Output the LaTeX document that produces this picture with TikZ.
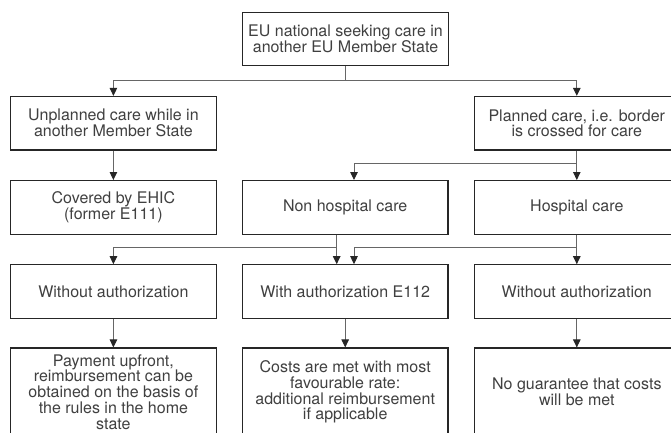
\documentclass[tikz,border=0pt]{standalone}
\usepackage{fontspec}
\setmainfont{TeX Gyre Heros}
\usetikzlibrary{arrows.meta}
\begin{document}
\begin{tikzpicture}[x=1pt,y=-1pt,
  box/.style={draw=black!85,line width=1.1pt,fill=white,minimum width=205.5pt,
    minimum height=53.5pt,inner sep=2pt,align=center,text=black!75,
    font=\fontsize{16}{15.8}\selectfont},
  tallbox/.style={box,minimum height=88pt},
  conn/.style={draw=black!60,line width=0.9pt},
  arr/.style={conn,-{Triangle[length=8pt,width=7.5pt,color=black!85,fill=black!85]}}]
\useasboundingbox (0,0) rectangle (671,433);
\clip (0,0) rectangle (671,433);
% row 1
\node[box] (top) at (345.5,39.2) {EU national seeking care in\\another EU Member State};
% row 2
\node[box] (unpl) at (113.4,123.2) {Unplanned care while in\\another Member State};
\node[box] (plan) at (576.8,123.2) {Planned care, i.e. border\\is crossed for care};
% row 3
\node[box] (ehic) at (113.4,207.3) {Covered by EHIC\\(former E111)};
\node[box] (nonh) at (345.2,207.3) {Non hospital care};
\node[box] (hosp) at (576.8,207.3) {Hospital care};
% row 4
\node[box] (woa) at (113.4,291.5) {Without authorization};
\node[box] (with) at (345.2,291.5) {With authorization E112};
\node[box] (wob) at (576.8,291.5) {Without authorization};
% row 5
\node[tallbox] (pay) at (113.4,392) {Payment upfront,\\reimbursement can be\\obtained on the basis of\\the rules in the home\\state};
\node[tallbox] (cost) at (345.2,392) {Costs are met with most\\favourable rate:\\additional reimbursement\\if applicable};
\node[tallbox] (nog) at (576.8,392) {No guarantee that costs\\will be met};
% connectors
\draw[arr] (top.south) -- ++(0,13.5) -| (unpl.north);
\draw[arr] (top.south) -- ++(0,13.5) -| (plan.north);
\draw[arr] (unpl) -- (ehic);
\draw[arr] (plan) -- (hosp);
\draw[arr] (plan.south) ++(0,13.3) -| ([xshift=8.8pt]nonh.north);
\draw[arr] ([xshift=-8.5pt]nonh.south) -- ([xshift=-8.5pt]with.north);
\draw[arr] ([xshift=-8.5pt]nonh.south) ++(0,13.3) -| (woa.north);
\draw[arr] (hosp) -- (wob);
\draw[arr] (hosp.south) ++(0,13.3) -| ([xshift=8.8pt]with.north);
\draw[arr] (woa) -- (pay);
\draw[arr] (with) -- (cost);
\draw[arr] (wob) -- (nog);
\end{tikzpicture}
\end{document}
